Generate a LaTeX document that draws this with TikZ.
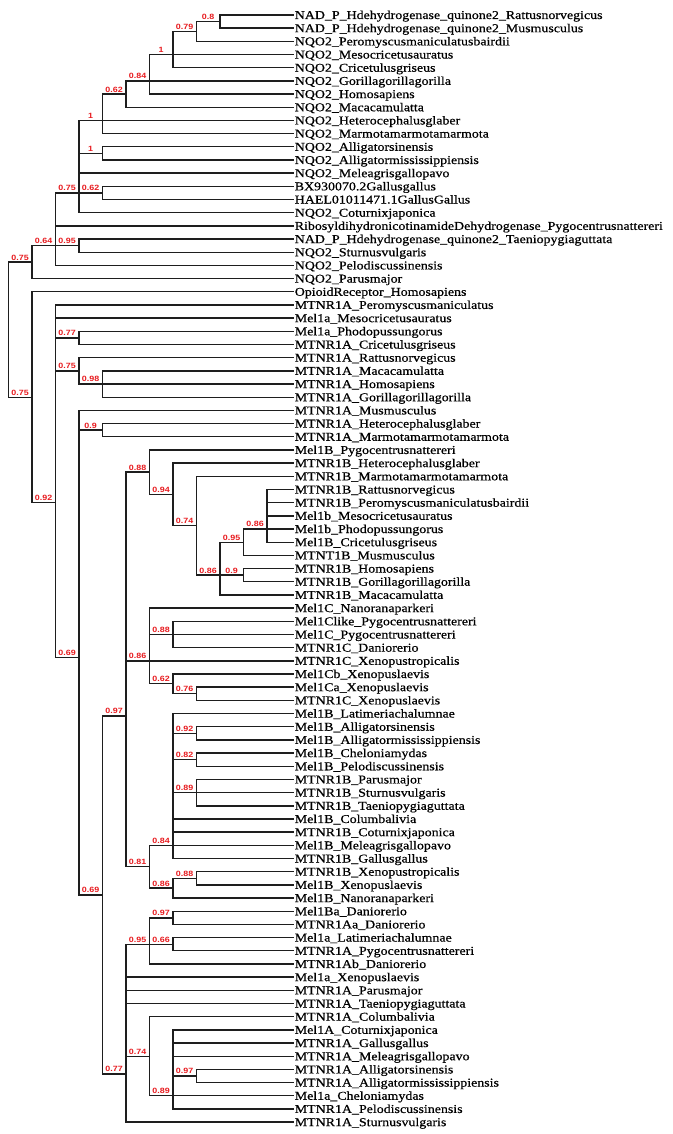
\documentclass[tikz,border=0pt]{standalone}
\usepackage{fontspec}
\setmainfont{Liberation Serif}[FakeStretch=1.16,FakeBold=0.6]
\newfontfamily\labfont{Liberation Sans}[FakeStretch=1.17]
\definecolor{suppred}{RGB}{232,28,32}
\definecolor{brcol}{RGB}{30,30,30}
\tikzset{
  br/.style={draw=brcol, line width=1.4pt},
  leaf/.style={anchor=base west, yshift=-4pt, inner sep=0.6pt, font=\fontsize{12}{12}\selectfont, text=black},
  bslab/.style={anchor=south, inner sep=0pt, yshift=1.3pt, font=\labfont\bfseries\fontsize{7.6}{7.6}\selectfont, text=suppred}
}
\newcommand\leafat[3]{%
  \coordinate (l#1) at (294,{15+(#1-1)*13.18});
  \draw[br] (#2) |- (l#1);
  \node[leaf] (t#1) at (l#1) {#3};
}
\newcommand\inode[5]{%
  \coordinate (#1) at ({8.3+#2*23.5},#3);
  \draw[br] (#4) |- (#1) node[bslab, pos=0.75] (s#1) {#5};
}
\begin{document}
\begin{tikzpicture}[x=1pt,y=-1pt]
\useasboundingbox[fill=white] (0,0) rectangle (672,1134);
\coordinate (root) at (8.3,329.7);
% upper clade
\inode{A}{1}{262.1}{root}{0.75}
\inode{A1}{2}{245.65}{A}{0.64}
\inode{A1a}{3}{192.93}{A1}{0.75}
\inode{N6}{4}{120.44}{A1a}{1}
\inode{N5}{5}{94.08}{N6}{0.62}
\inode{N4}{6}{80.90}{N5}{0.84}
\inode{N3}{7}{54.54}{N4}{1}
\inode{N2}{8}{31.475}{N3}{0.79}
\inode{N1}{9}{21.59}{N2}{0.8}
\inode{N7}{4}{153.39}{A1a}{1}
\inode{N8}{4}{192.93}{A1a}{0.62}
\inode{N95}{3}{245.65}{A1}{0.95}
\leafat{1}{N1}{NAD\_P\_Hdehydrogenase\_quinone2\_Rattusnorvegicus}
\leafat{2}{N1}{NAD\_P\_Hdehydrogenase\_quinone2\_Musmusculus}
\leafat{3}{N2}{NQO2\_Peromyscusmaniculatusbairdii}
\leafat{4}{N3}{NQO2\_Mesocricetusauratus}
\leafat{5}{N3}{NQO2\_Cricetulusgriseus}
\leafat{6}{N4}{NQO2\_Gorillagorillagorilla}
\leafat{7}{N4}{NQO2\_Homosapiens}
\leafat{8}{N5}{NQO2\_Macacamulatta}
\leafat{9}{N6}{NQO2\_Heterocephalusglaber}
\leafat{10}{N6}{NQO2\_Marmotamarmotamarmota}
\leafat{11}{N7}{NQO2\_Alligatorsinensis}
\leafat{12}{N7}{NQO2\_Alligatormississippiensis}
\leafat{13}{A1a}{NQO2\_Meleagrisgallopavo}
\leafat{14}{N8}{BX930070.2Gallusgallus}
\leafat{15}{N8}{HAEL01011471.1GallusGallus}
\leafat{16}{A1a}{NQO2\_Coturnixjaponica}
\leafat{17}{A1}{RibosyldihydronicotinamideDehydrogenase\_Pygocentrusnattereri}
\leafat{18}{N95}{NAD\_P\_Hdehydrogenase\_quinone2\_Taeniopygiaguttata}
\leafat{19}{N95}{NQO2\_Sturnusvulgaris}
\leafat{20}{A1}{NQO2\_Pelodiscussinensis}
\leafat{21}{A}{NQO2\_Parusmajor}
% lower clade
\inode{B}{1}{397.24}{root}{0.75}
\leafat{22}{B}{OpioidReceptor\_Homosapiens}
\inode{C}{2}{502.7}{B}{0.92}
\leafat{23}{C}{MTNR1A\_Peromyscusmaniculatus}
\leafat{24}{C}{Mel1a\_Mesocricetusauratus}
\inode{N77}{3}{337.91}{C}{0.77}
\leafat{25}{N77}{Mel1a\_Phodopussungorus}
\leafat{26}{N77}{MTNR1A\_Cricetulusgriseus}
\inode{N75b}{3}{370.86}{C}{0.75}
\leafat{27}{N75b}{MTNR1A\_Rattusnorvegicus}
\inode{N98}{4}{384.04}{N75b}{0.98}
\leafat{28}{N98}{MTNR1A\_Macacamulatta}
\leafat{29}{N98}{MTNR1A\_Homosapiens}
\leafat{30}{N98}{MTNR1A\_Gorillagorillagorilla}
\inode{D}{3}{657.7}{C}{0.69}
\leafat{31}{D}{MTNR1A\_Musmusculus}
\inode{N90}{4}{430.17}{D}{0.9}
\leafat{32}{N90}{MTNR1A\_Heterocephalusglaber}
\leafat{33}{N90}{MTNR1A\_Marmotamarmotamarmota}
\inode{E}{4}{895.0}{D}{0.69}
\inode{F}{5}{716.0}{E}{0.97}
\inode{H}{6}{472.18}{F}{0.88}
\leafat{34}{H}{Mel1B\_Pygocentrusnattereri}
\inode{K}{7}{494.42}{H}{0.94}
\leafat{35}{K}{MTNR1B\_Heterocephalusglaber}
\inode{L}{8}{525.73}{K}{0.74}
\leafat{36}{L}{MTNR1B\_Marmotamarmotamarmota}
\inode{M}{9}{575.15}{L}{0.86}
\inode{N95b}{10}{542.2}{M}{0.95}
\inode{O}{11}{529.02}{N95b}{0.86}
\leafat{37}{O}{MTNR1B\_Rattusnorvegicus}
\leafat{38}{O}{MTNR1B\_Peromyscusmaniculatusbairdii}
\leafat{39}{O}{Mel1b\_Mesocricetusauratus}
\leafat{40}{O}{Mel1b\_Phodopussungorus}
\leafat{41}{O}{Mel1B\_Cricetulusgriseus}
\leafat{42}{N95b}{MTNT1B\_Musmusculus}
\inode{N9}{10}{575.15}{M}{0.9}
\leafat{43}{N9}{MTNR1B\_Homosapiens}
\leafat{44}{N9}{MTNR1B\_Gorillagorillagorilla}
\leafat{45}{M}{MTNR1B\_Macacamulatta}
\inode{I}{6}{660.82}{F}{0.86}
\leafat{46}{I}{Mel1C\_Nanoranaparkeri}
\inode{P}{7}{634.46}{I}{0.88}
\leafat{47}{P}{Mel1Clike\_Pygocentrusnattereri}
\leafat{48}{P}{Mel1C\_Pygocentrusnattereri}
\leafat{49}{P}{MTNR1C\_Daniorerio}
\leafat{50}{I}{MTNR1C\_Xenopustropicalis}
\inode{Q}{7}{683.68}{I}{0.62}
\leafat{51}{Q}{Mel1Cb\_Xenopuslaevis}
\inode{R}{8}{693.77}{Q}{0.76}
\leafat{52}{R}{Mel1Ca\_Xenopuslaevis}
\leafat{53}{R}{MTNR1C\_Xenopuslaevis}
\inode{J}{6}{866.76}{F}{0.81}
\inode{S}{7}{845.34}{J}{0.84}
\leafat{54}{S}{Mel1B\_Latimeriachalumnae}
\inode{U}{8}{733.31}{S}{0.92}
\leafat{55}{U}{Mel1B\_Alligatorsinensis}
\leafat{56}{U}{Mel1B\_Alligatormississippiensis}
\inode{V}{8}{759.67}{S}{0.82}
\leafat{57}{V}{Mel1B\_Cheloniamydas}
\leafat{58}{V}{Mel1B\_Pelodiscussinensis}
\inode{W}{8}{792.62}{S}{0.89}
\leafat{59}{W}{MTNR1B\_Parusmajor}
\leafat{60}{W}{MTNR1B\_Sturnusvulgaris}
\leafat{61}{W}{MTNR1B\_Taeniopygiaguttata}
\leafat{62}{S}{Mel1B\_Columbalivia}
\leafat{63}{S}{MTNR1B\_Coturnixjaponica}
\leafat{64}{S}{Mel1B\_Meleagrisgallopavo}
\leafat{65}{S}{MTNR1B\_Gallusgallus}
\inode{T}{7}{888.18}{J}{0.86}
\inode{X}{8}{878.29}{T}{0.88}
\leafat{66}{X}{MTNR1B\_Xenopustropicalis}
\leafat{67}{X}{Mel1B\_Xenopuslaevis}
\leafat{68}{T}{Mel1B\_Nanoranaparkeri}
\inode{G}{5}{1074.0}{E}{0.77}
\inode{Y}{6}{944.19}{G}{0.95}
\inode{AA}{7}{917.83}{Y}{0.97}
\leafat{69}{AA}{Mel1Ba\_Daniorerio}
\leafat{70}{AA}{MTNR1Aa\_Daniorerio}
\inode{AB}{7}{944.19}{Y}{0.66}
\leafat{71}{AB}{Mel1a\_Latimeriachalumnae}
\leafat{72}{AB}{MTNR1A\_Pygocentrusnattereri}
\leafat{73}{Y}{MTNR1Ab\_Daniorerio}
\leafat{74}{G}{Mel1a\_Xenopuslaevis}
\leafat{75}{G}{MTNR1A\_Parusmajor}
\leafat{76}{G}{MTNR1A\_Taeniopygiaguttata}
\inode{Z}{6}{1056.22}{G}{0.74}
\leafat{77}{Z}{MTNR1A\_Columbalivia}
\inode{AC}{7}{1095.76}{Z}{0.89}
\leafat{78}{AC}{Mel1A\_Coturnixjaponica}
\leafat{79}{AC}{MTNR1A\_Gallusgallus}
\leafat{80}{AC}{MTNR1A\_Meleagrisgallopavo}
\inode{AD}{8}{1075.99}{AC}{0.97}
\leafat{81}{AD}{MTNR1A\_Alligatorsinensis}
\leafat{82}{AD}{MTNR1A\_Alligatormississippiensis}
\leafat{83}{AC}{Mel1a\_Cheloniamydas}
\leafat{84}{AC}{MTNR1A\_Pelodiscussinensis}
\leafat{85}{G}{MTNR1A\_Sturnusvulgaris}
\end{tikzpicture}
\end{document}
